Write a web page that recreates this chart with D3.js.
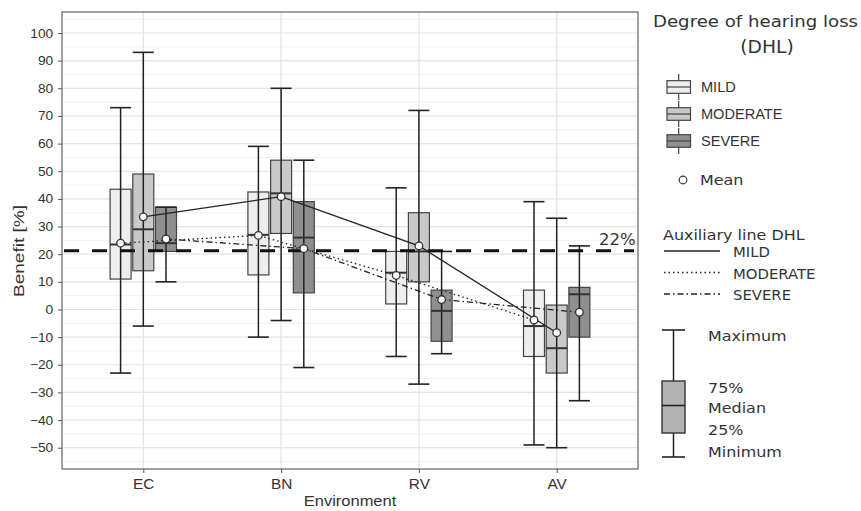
<!DOCTYPE html>
<meta charset="utf-8">
<style>
body { margin: 0; background: #fff; }
text { font-family: "Liberation Sans", Arial, sans-serif; fill: #333; }
.leg text { font-family: "DejaVu Sans", Verdana, sans-serif; }
</style>
<body>
<script src="https://d3js.org/d3.v7.min.js"></script>
<script>
// data
var environments = ["EC", "BN", "RV", "AV"];
var groups = ["MILD", "MODERATE", "SEVERE"];
// [min, q1, median, q3, max] per environment
var mildBox     = [[-23, 11, 23.5, 43.5, 73], [-10, 12.5, 27, 42.5, 59], [-17, 2, 13.3, 21, 44], [-49, -17, -6, 7, 39]];
var moderateBox = [[-6, 14, 29, 49, 93], [-4, 27.5, 42, 54, 80], [-27, 10, 21, 35, 72], [-50, -23, -14, 1.6, 33]];
var severeBox   = [[10, 21, 24, 37, 37], [-21, 6, 26, 39, 54], [-16, -11.5, -0.5, 7, 21], [-33, -10, 5.5, 8, 23]];
var mildMean     = [24, 26.8, 12.3, -3.8];
var moderateMean = [33.5, 40.8, 23, -8.4];
var severeMean   = [25.5, 22, 3.6, -1];
var refLine = 21.2, refLabel = "22%";
var yTicks = d3.range(-50, 101, 10);

var boxes = {MILD: mildBox, MODERATE: moderateBox, SEVERE: severeBox};
var means = {MILD: mildMean, MODERATE: moderateMean, SEVERE: severeMean};
var fills = {MILD: "#eeeeee", MODERATE: "#c9c9c9", SEVERE: "#8f8f8f"};
// line styles as drawn in the plot
var dashes = {MILD: "1.5,3", MODERATE: null, SEVERE: "6,3,1.5,3"};
// line styles as listed in the legend
var legendDashes = {MILD: null, MODERATE: "1.5,3", SEVERE: "6,3,1.5,3"};

var W = 861, H = 511, L = 62, R = 638, T = 12, B = 469, SX = 1.1;

var svg = d3.select("body").append("svg").attr("width", W).attr("height", H);

var x = d3.scalePoint().domain(environments).range([L, R]).padding(0.59);
var dodge = d3.scalePoint().domain(groups).range([-22.7, 22.7]);
var y = d3.scaleLinear().domain([-57.7, 107.6]).range([B, T]);
var bw = 21;

// grid
var grid = svg.append("g");
grid.selectAll("line.minor").data(d3.range(-55, 106, 10)).enter().append("line")
  .attr("x1", L).attr("x2", R).attr("y1", y).attr("y2", y)
  .attr("stroke", "#f1f1f1").attr("stroke-width", 1);
grid.selectAll("line.major").data(yTicks).enter().append("line")
  .attr("x1", L).attr("x2", R).attr("y1", y).attr("y2", y)
  .attr("stroke", "#e4e4e4").attr("stroke-width", 1.2);
grid.selectAll("line.vert").data(environments).enter().append("line")
  .attr("x1", x).attr("x2", x).attr("y1", T).attr("y2", B)
  .attr("stroke", "#e4e4e4").attr("stroke-width", 1.2);

// boxplots
var plot = svg.append("g");
groups.forEach(function(g) {
  var data = boxes[g].map(function(s, i) { return {env: environments[i], s: s}; });
  var gg = plot.append("g").selectAll("g").data(data).enter().append("g")
    .attr("transform", function(d) { return "translate(" + (x(d.env) + dodge(g)) + ",0)"; });
  gg.append("rect")
    .attr("x", -bw / 2).attr("width", bw)
    .attr("y", function(d) { return y(d.s[3]); })
    .attr("height", function(d) { return y(d.s[1]) - y(d.s[3]); })
    .attr("fill", fills[g]).attr("stroke", "#444").attr("stroke-width", 1.2);
  gg.append("line").attr("x1", 0).attr("x2", 0)
    .attr("y1", function(d) { return y(d.s[0]); }).attr("y2", function(d) { return y(d.s[4]); })
    .attr("stroke", "#222").attr("stroke-width", 1.5);
  [0, 4].forEach(function(k) {
    gg.append("line").attr("x1", -bw / 2).attr("x2", bw / 2)
      .attr("y1", function(d) { return y(d.s[k]); }).attr("y2", function(d) { return y(d.s[k]); })
      .attr("stroke", "#222").attr("stroke-width", 1.6);
  });
  gg.append("line").attr("x1", -bw / 2).attr("x2", bw / 2)
    .attr("y1", function(d) { return y(d.s[2]); }).attr("y2", function(d) { return y(d.s[2]); })
    .attr("stroke", "#333").attr("stroke-width", 2);
});

// reference line
plot.append("line").attr("x1", L + 2).attr("x2", R - 4)
  .attr("y1", y(refLine)).attr("y2", y(refLine))
  .attr("stroke", "#111").attr("stroke-width", 3).attr("stroke-dasharray", "15,13");

// mean lines + points
var line = d3.line().x(function(d) { return d[0]; }).y(function(d) { return d[1]; });
groups.forEach(function(g) {
  var pts = means[g].map(function(m, i) { return [x(environments[i]) + dodge(g), y(m)]; });
  plot.append("path").attr("d", line(pts)).attr("fill", "none")
    .attr("stroke", "#222").attr("stroke-width", 1.3)
    .attr("stroke-dasharray", dashes[g]);
});
groups.forEach(function(g) {
  plot.append("g").selectAll("circle").data(means[g]).enter().append("circle")
    .attr("cx", function(d, i) { return x(environments[i]) + dodge(g); })
    .attr("cy", function(d) { return y(d); })
    .attr("r", 3.8).attr("fill", "#fff").attr("stroke", "#333").attr("stroke-width", 1.3);
});

svg.append("text").text(refLabel).style("font-family", "DejaVu Sans").style("font-size", "15px")
  .attr("transform", "translate(599," + (y(refLine) - 6) + ") scale(" + SX + ",1)");

// panel border
svg.append("rect").attr("x", L).attr("y", T).attr("width", R - L).attr("height", B - T)
  .attr("fill", "none").attr("stroke", "#6e6e6e").attr("stroke-width", 1.3);

// axes
var ya = svg.append("g").attr("transform", "translate(" + L + ",0)")
  .call(d3.axisLeft(y).tickValues(yTicks).tickSize(4).tickPadding(4));
ya.select(".domain").remove();
ya.selectAll("line").attr("stroke", "#555");
ya.selectAll("text").style("font-size", "12.5px").attr("fill", "#333")
  .attr("transform", "scale(" + SX + ",1)");

var xa = svg.append("g").attr("transform", "translate(0," + B + ")")
  .call(d3.axisBottom(x).tickSize(4).tickPadding(6));
xa.select(".domain").remove();
xa.selectAll("line").attr("stroke", "#555");
xa.selectAll("text").style("font-size", "14px")
  .attr("fill", function(d) { return d === "AV" ? "#9a9a9a" : "#333"; })
  .attr("transform", "scale(" + SX + ",1)");

svg.append("text").text("Environment").style("font-size", "15px").attr("text-anchor", "middle")
  .attr("transform", "translate(350,506) scale(" + SX + ",1)");
svg.append("text").text("Benefit [%]").style("font-size", "15px").attr("text-anchor", "middle")
  .attr("transform", "translate(24,251) rotate(-90)")
  .attr("textLength", 92).attr("lengthAdjust", "spacingAndGlyphs");

// legend
var leg = svg.append("g").attr("class", "leg");
function txt(s, px, py, size, anchor) {
  return leg.append("text").text(s).style("font-size", size + "px")
    .attr("text-anchor", anchor || "start")
    .attr("transform", "translate(" + px + "," + py + ") scale(" + SX + ",1)");
}
txt("Degree of hearing loss", 653, 27, 16.5);
txt("(DHL)", 767, 53, 17, "middle");

var keyY = d3.scalePoint().domain(groups).range([87, 141]);
groups.forEach(function(g) {
  var cy = keyY(g);
  leg.append("line").attr("x1", 678.7).attr("x2", 678.7).attr("y1", cy - 13).attr("y2", cy + 13)
    .attr("stroke", "#444").attr("stroke-width", 1.2);
  leg.append("rect").attr("x", 667).attr("y", cy - 6.3).attr("width", 23.5).attr("height", 12.6)
    .attr("fill", fills[g]).attr("stroke", "#444").attr("stroke-width", 1.2);
  leg.append("line").attr("x1", 667).attr("x2", 690.5).attr("y1", cy).attr("y2", cy)
    .attr("stroke", "#444").attr("stroke-width", 1.2);
  leg.append("text").text(g).style("font-family", "Liberation Sans").style("font-size", "14px")
    .attr("transform", "translate(701," + (cy + 5) + ") scale(1.04,1)");
});
leg.append("circle").attr("cx", 683).attr("cy", 180).attr("r", 3.8)
  .attr("fill", "#fff").attr("stroke", "#333").attr("stroke-width", 1.2);
txt("Mean", 700, 185, 14.5);

txt("Auxiliary line DHL", 663, 240, 14.5);
var auxY = d3.scalePoint().domain(groups).range([251, 294]);
groups.forEach(function(g) {
  leg.append("line").attr("x1", 664).attr("x2", 720).attr("y1", auxY(g)).attr("y2", auxY(g))
    .attr("stroke", "#222").attr("stroke-width", 1.3).attr("stroke-dasharray", legendDashes[g]);
  txt(g, 733, auxY(g) + 6, 13.5);
});

// box explanation key
var kx = 673.5;
leg.append("line").attr("x1", kx).attr("x2", kx).attr("y1", 330).attr("y2", 457)
  .attr("stroke", "#222").attr("stroke-width", 1.5);
leg.append("rect").attr("x", 662).attr("y", 381).attr("width", 23).attr("height", 52)
  .attr("fill", "#b3b3b3").attr("stroke", "#333").attr("stroke-width", 1.4);
[330, 405.5, 457].forEach(function(v) {
  leg.append("line").attr("x1", 662).attr("x2", 685).attr("y1", v).attr("y2", v)
    .attr("stroke", "#222").attr("stroke-width", 1.6);
});
var keyLabels = ["Maximum", "75%", "Median", "25%", "Minimum"];
var keyBase = [341, 393, 413, 435, 457];
keyLabels.forEach(function(s, i) { txt(s, 708, keyBase[i], 14.5); });
</script>
</body>
